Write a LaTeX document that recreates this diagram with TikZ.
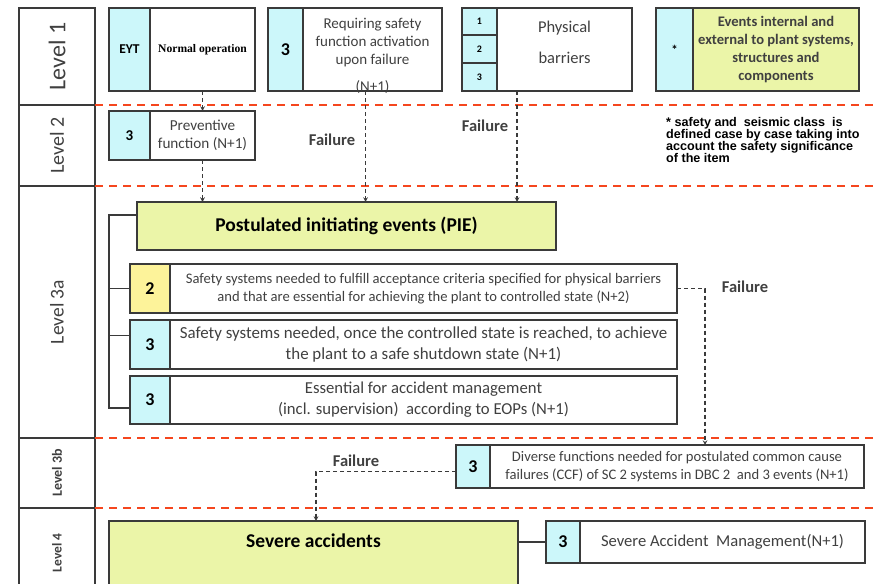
\documentclass[tikz,border=0pt]{standalone}
\usepackage{fontspec}
\setmainfont{Carlito}
\newfontfamily\notefont{Liberation Sans}
\newfontfamily\oldfont{Liberation Serif}
\usepackage{tikz}
\usetikzlibrary{arrows}
\usetikzlibrary{positioning}

\definecolor{tagcyan}{HTML}{CCF7FA}
\definecolor{piegreen}{HTML}{EBF5A8}
\definecolor{tagyellow}{HTML}{FDF39A}
\definecolor{boxline}{HTML}{3A3A3A}
\definecolor{levred}{HTML}{F5461E}
\definecolor{txtgray}{HTML}{404040}

\newcommand{\fsz}[2]{\fontsize{#1}{#2}\selectfont}

\begin{document}
\begin{tikzpicture}[x=1pt, y=-1pt, >=stealth,
    box/.style={draw=boxline, line width=1.3pt, inner sep=0pt, outer sep=0pt, align=center, text=txtgray},
    tag/.style={box, fill=tagcyan, text=black, font=\fsz{18}{20}\bfseries},
    lev/.style={box, fill=white, minimum width=76pt, anchor=north west},
    levline/.style={draw=levred, line width=2.2pt, dash pattern=on 8pt off 6pt},
    fail/.style={->, draw=boxline, line width=1.1pt, dash pattern=on 4pt off 3pt},
    bracket/.style={draw=boxline, line width=1.2pt},
    faillbl/.style={font=\fsz{16.5}{18}\bfseries, text=txtgray}]

    \useasboundingbox (0,0) rectangle (876,584);
    \clip (0,0) rectangle (876,584);

    % Levels

    \node[lev, minimum height=97pt]              (lev1)  at (19,8) {\rotatebox{90}{\fsz{24}{26}Level 1}}; %
    \node[lev, minimum height=81pt, below=0pt of lev1]  (lev2)  {\rotatebox{90}{\fsz{20}{22}Level 2}}; %
    \node[lev, minimum height=252pt, below=0pt of lev2] (lev3a) {\rotatebox{90}{\fsz{19.5}{21}Level 3a}}; %
    \node[lev, minimum height=70pt, below=0pt of lev3a] (lev3b) {\rotatebox{90}{\fsz{14}{16}\bfseries Level 3b}}; %
    \node[lev, minimum height=90pt, below=0pt of lev3b] (lev4)  {\rotatebox{90}{\fsz{13.5}{15}\bfseries Level 4}}; %

    \draw[levline] (lev1.south east)  -- ++(780,0);
    \draw[levline] (lev2.south east)  -- ++(780,0);
    \draw[levline] (lev3a.south east) -- ++(780,0);
    \draw[levline] (lev3b.south east) -- ++(780,0);

    % Level 1 nodes

    \node[tag, minimum width=41pt, minimum height=83pt, anchor=north west, font=\fsz{13.5}{15}\bfseries] (eytTag) at (109,8) {EYT}; %
    \node[box, minimum width=105pt, minimum height=83pt, right=0pt of eytTag, font=\oldfont\fsz{11.6}{13}\bfseries, text=black] (eytTxt) {Normal operation}; %

    \node[tag, minimum width=35pt, minimum height=83pt, anchor=north west] (reqTag) at (268,8) {3}; %
    \node[box, minimum width=139pt, minimum height=83pt, right=0pt of reqTag,
        label={[font=\fsz{15}{18}, text=txtgray, align=center, yshift=6.5pt]center:{Requiring safety\\function activation\\upon failure}},
        label={[font=\fsz{15}{17}, text=txtgray, anchor=center, yshift=4pt]south:(N+1)}] (reqTxt) {}; %

    \node[tag, minimum width=35pt, minimum height=27pt, anchor=north west, font=\fsz{10}{11}\bfseries] (bar1) at (462,8) {1}; %
    \node[tag, minimum width=35pt, minimum height=28pt, below=0pt of bar1, font=\fsz{10}{11}\bfseries] (bar2) {2}; %
    \node[tag, minimum width=35pt, minimum height=28pt, below=0pt of bar2, font=\fsz{10}{11}\bfseries] (bar3) {3}; %
    \node[box, minimum width=135pt, minimum height=83pt, anchor=north west,
        label={[font=\fsz{16.5}{31}, text=txtgray, align=center, yshift=7pt]center:{Physical\\barriers}}] (barTxt) at (497,8) {}; %

    \node[tag, minimum width=37pt, minimum height=83pt, anchor=north west, font=\fsz{13}{15}\bfseries] (evTag) at (656,8) {*}; %
    \node[box, fill=piegreen, minimum width=166pt, minimum height=83pt, right=0pt of evTag, font=\fsz{14.6}{18}\bfseries] (evTxt) {Events internal and\\external to plant systems,\\structures and\\components}; %

    % Level 2 nodes

    \node[tag, minimum width=41pt, minimum height=49pt, anchor=north west, font=\fsz{15}{17}\bfseries] (prevTag) at (109,111) {3}; %
    \node[box, minimum width=105pt, minimum height=49pt, right=0pt of prevTag, font=\fsz{15.2}{18}] (prevTxt) {Preventive\\function (N+1)}; %

    \node[faillbl] (fail1) at (332,140) {Failure}; %
    \node[faillbl] (fail2) at (485,126) {Failure}; %

    \node[anchor=north west, align=left, inner sep=0pt, font=\notefont\fsz{12.6}{12}\bfseries] (note) at (666,117)
        {* safety and\ \ seismic class\ \ is\\defined case by case taking into\\account the safety significance\\of the item}; %

    % Level 3a nodes

    \node[box, fill=piegreen, minimum width=419pt, minimum height=48pt, anchor=north west, font=\fsz{19.5}{21}\bfseries, text=black] (pie) at (137,202) {Postulated initiating events (PIE)}; %

    \node[tag, fill=tagyellow, minimum width=40pt, minimum height=49pt, anchor=north west] (tagA) at (130,264) {2}; %
    \node[box, minimum width=507pt, minimum height=49pt, right=0pt of tagA, font=\fsz{14.6}{18}] (txtA) {Safety systems needed to fulfill acceptance criteria specified for physical barriers\\and that are essential for achieving the plant to controlled state (N+2)}; %

    \node[tag, minimum width=40pt, minimum height=49pt, anchor=north west] (tagB) at (130,320) {3}; %
    \node[box, minimum width=507pt, minimum height=49pt, right=0pt of tagB, font=\fsz{16.9}{21}] (txtB) {Safety systems needed, once the controlled state is reached, to achieve\\the plant to a safe shutdown state (N+1)}; %

    \node[tag, minimum width=40pt, minimum height=48pt, anchor=north west] (tagC) at (130,376) {3}; %
    \node[box, minimum width=507pt, minimum height=48pt, right=0pt of tagC, font=\fsz{16.7}{21}] (txtC) {Essential for accident management\\(incl. supervision)\ \ according to EOPs (N+1)}; %

    \node[faillbl] (fail3) at (745,287) {Failure}; %

    % Level 3b and 4 nodes

    \node[tag, minimum width=34pt, minimum height=43pt, anchor=north west] (ccfTag) at (456,445) {3}; %
    \node[box, minimum width=374pt, minimum height=43pt, right=0pt of ccfTag, font=\fsz{14.6}{18}] (ccfTxt) {Diverse functions needed for postulated common cause\\failures (CCF) of SC 2 systems in DBC 2\ \ and 3 events (N+1)}; %

    \node[faillbl] (fail4) at (356,461) {Failure}; %

    \node[box, fill=piegreen, minimum width=409pt, minimum height=100pt, anchor=north west,
        label={[anchor=center, yshift=-20pt, font=\fsz{19.5}{21}\bfseries, text=black]north:Severe accidents}] (sev) at (109,521) {}; %

    \node[tag, minimum width=34pt, minimum height=42pt, anchor=north west] (samTag) at (546,521) {3}; %
    \node[box, minimum width=285pt, minimum height=42pt, right=0pt of samTag, font=\fsz{16.6}{18}] (samTxt) {Severe Accident\ \ Management(N+1)}; %

    % Failure paths

    \coordinate (reqOut) at ([xshift=-7pt]reqTxt.south);
    \coordinate (barOut) at ([xshift=20pt]barTxt.south west);
    \coordinate (ccfIn)  at ([xshift=215pt]ccfTxt.north west);
    \coordinate (ccfOut) at ([yshift=-5pt]ccfTag.west);
    \coordinate (sevIn)  at ([xshift=207pt]sev.north west);

    \draw[fail] (eytTxt.south) -- (prevTxt.north);
    \draw[fail] (prevTxt.south) -- (prevTxt.south |- pie.north);
    \draw[fail] (reqOut) -- (reqOut |- pie.north);
    \draw[fail] (barOut) -- (barOut |- pie.north);
    \draw[fail] (txtA.east) -| (ccfIn);
    \draw[fail] (ccfOut) -| (sevIn);

    % Bracket

    \coordinate (pieIn) at ([yshift=11pt]pie.west);
    \coordinate (brB)   at ([yshift=9pt]tagB.west);
    \coordinate (brC)   at ([yshift=-8pt]tagC.west);

    \draw[bracket] (pieIn) -- ++(-28,0) coordinate (brk) |- (brC);
    \draw[bracket] (brk |- tagA.west) -- (tagA.west);
    \draw[bracket] (brk |- brB) -- (brB);
    \draw[bracket] (samTag.west) -- (samTag.west -| sev.east);

\end{tikzpicture}
\end{document}
